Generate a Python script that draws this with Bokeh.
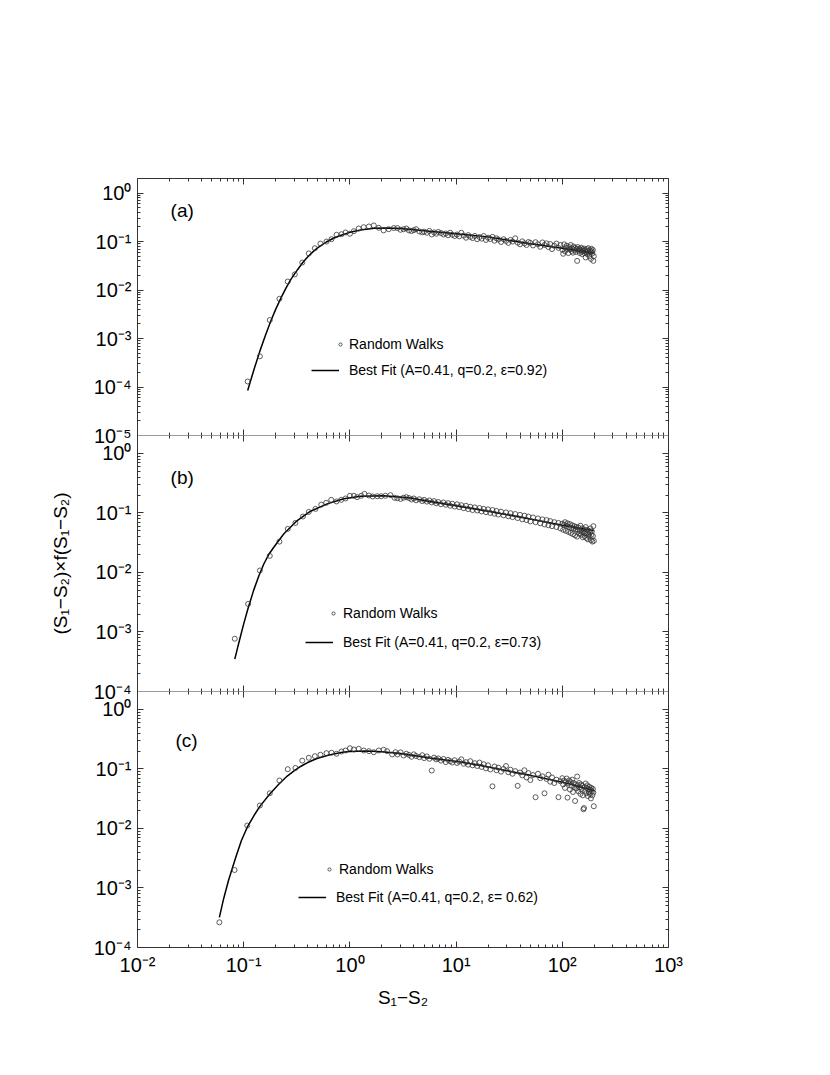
from bokeh.plotting import figure
from bokeh.layouts import column
from bokeh.models import (LogAxis, FixedTicker, CustomJSTickFormatter, Range1d,
                          Label, Legend, LegendItem)
from bokeh.embed import file_html
from bokeh.resources import INLINE

# ---------------- data ----------------
x_right = [2.8, 3.0, 3.2, 3.4, 3.6, 3.8, 4.0, 4.2, 4.5, 4.8,
           5.0, 5.3, 5.6, 5.9, 6.2, 6.5, 6.8, 7.2, 7.6, 8.0,
           8.4, 8.8, 9.2, 9.7, 10.2, 10.7, 11.2, 11.8, 12.4, 13.0,
           13.6, 14.3, 15.0, 15.8, 16.6, 17.4, 18.2, 19.1, 20, 21,
           22, 23, 24, 25, 26.5, 28, 29.5, 31, 32.5, 34,
           36, 38, 40, 42, 44, 46, 48, 50, 53, 56,
           59, 62, 65, 68, 71, 74, 77, 80, 84, 88,
           92, 96, 100, 102, 104, 106, 108, 110, 112, 114,
           116, 118, 120, 122, 124, 126, 128, 130, 132, 134,
           136, 138, 140, 142, 144, 146, 148, 150, 152, 154,
           156, 158, 160, 162, 164, 166, 168, 170, 172, 174,
           176, 178, 180, 182, 184, 186, 188, 190, 192, 194,
           196, 198]

# panel (a)
a_left_x = [0.109, 0.142, 0.176, 0.217, 0.26, 0.303, 0.356, 0.41, 0.468, 0.528,
            0.602, 0.671, 0.748, 0.834, 0.91, 1.0, 1.09, 1.21, 1.35, 1.51,
            1.68, 1.87, 2.08, 2.32, 2.59]
a_left_y = [1.3e-4, 4.3e-4, 2.4e-3, 6.6e-3, 0.015, 0.021, 0.037, 0.057, 0.073, 0.091,
            0.100, 0.112, 0.138, 0.142, 0.154, 0.145, 0.164, 0.186, 0.198, 0.205,
            0.215, 0.192, 0.170, 0.18, 0.19]
a_right_y = [0.19, 0.175, 0.18, 0.186, 0.17, 0.165, 0.172, 0.18, 0.162, 0.155,
             0.16, 0.152, 0.166, 0.14, 0.155, 0.145, 0.158, 0.15, 0.14, 0.147,
             0.135, 0.152, 0.138, 0.13, 0.14, 0.128, 0.152, 0.133, 0.12, 0.136,
             0.125, 0.118, 0.131, 0.112, 0.124, 0.115, 0.13, 0.108, 0.12, 0.113,
             0.125, 0.104, 0.117, 0.11, 0.098, 0.112, 0.103, 0.094, 0.108, 0.1,
             0.117, 0.095, 0.088, 0.101, 0.092, 0.085, 0.098, 0.094, 0.083, 0.097,
             0.088, 0.078, 0.096, 0.085, 0.092, 0.077, 0.089, 0.07, 0.082, 0.091,
             0.074, 0.085, 0.068, 0.056, 0.088, 0.063, 0.075, 0.082, 0.069, 0.058,
             0.077, 0.07, 0.085, 0.064, 0.072, 0.059, 0.079, 0.067, 0.074, 0.061,
             0.07, 0.04, 0.077, 0.065, 0.071, 0.058, 0.068, 0.075, 0.062, 0.055,
             0.069, 0.064, 0.072, 0.058, 0.066, 0.047, 0.061, 0.07, 0.055, 0.064,
             0.073, 0.059, 0.05, 0.066, 0.061, 0.044, 0.071, 0.063, 0.057, 0.067,
             0.04, 0.05]
fit_a_x = [0.109, 0.125, 0.142, 0.16, 0.18, 0.2, 0.225, 0.25, 0.28, 0.32, 0.36, 0.4,
           0.45, 0.5, 0.6, 0.7, 0.8, 1.0, 1.3, 1.7, 2.2, 3, 5, 10, 20, 50, 100, 198]
fit_a_y = [8.5e-5, 2.3e-4, 5.5e-4, 1.15e-3, 2.3e-3, 4.0e-3, 7.0e-3, 1.1e-2, 1.7e-2,
           2.6e-2, 3.7e-2, 4.8e-2, 6.2e-2, 7.5e-2, 9.8e-2, 0.117, 0.132, 0.155, 0.175,
           0.188, 0.19, 0.186, 0.168, 0.145, 0.125, 0.09, 0.073, 0.058]

# panel (b)
b_left_x = [0.0824, 0.110, 0.142, 0.176, 0.217, 0.26, 0.307, 0.361, 0.41, 0.474,
            0.537, 0.598, 0.667, 0.748, 0.828, 0.91, 1.0, 1.09, 1.17, 1.28,
            1.37, 1.51, 1.64, 1.81, 1.97, 2.16, 2.41, 2.63]
b_left_y = [7.7e-4, 2.96e-3, 0.0108, 0.019, 0.033, 0.054, 0.068, 0.087, 0.104, 0.117,
            0.138, 0.148, 0.166, 0.156, 0.166, 0.175, 0.194, 0.194, 0.184, 0.194,
            0.209, 0.196, 0.189, 0.191, 0.191, 0.194, 0.199, 0.18]
b_right_y = [0.176, 0.172, 0.18, 0.184, 0.178, 0.168, 0.175, 0.163, 0.17, 0.158,
             0.166, 0.155, 0.162, 0.15, 0.158, 0.145, 0.153, 0.14, 0.15, 0.137,
             0.146, 0.132, 0.143, 0.128, 0.14, 0.125, 0.135, 0.12, 0.132, 0.116,
             0.127, 0.112, 0.124, 0.11, 0.121, 0.106, 0.117, 0.103, 0.115, 0.1,
             0.112, 0.097, 0.108, 0.094, 0.105, 0.091, 0.102, 0.088, 0.099, 0.085,
             0.096, 0.082, 0.093, 0.078, 0.09, 0.076, 0.087, 0.072, 0.084, 0.07,
             0.081, 0.067, 0.078, 0.064, 0.076, 0.062, 0.073, 0.06, 0.07, 0.058,
             0.068, 0.055, 0.066, 0.052, 0.063, 0.07, 0.05, 0.061, 0.067, 0.048,
             0.058, 0.065, 0.046, 0.056, 0.062, 0.044, 0.055, 0.06, 0.042, 0.053,
             0.058, 0.04, 0.052, 0.057, 0.045, 0.05, 0.061, 0.043, 0.048, 0.055,
             0.039, 0.047, 0.053, 0.041, 0.046, 0.058, 0.038, 0.045, 0.052, 0.036,
             0.044, 0.05, 0.04, 0.047, 0.055, 0.035, 0.043, 0.049, 0.033, 0.041,
             0.06, 0.034]
fit_b_x = [0.0824, 0.09, 0.1, 0.11, 0.124, 0.139, 0.155, 0.172, 0.192, 0.239, 0.319,
           0.426, 0.611, 0.877, 1.26, 2.08, 3.72, 5, 10, 20, 50, 100, 198]
fit_b_y = [3.5e-4, 6.6e-4, 1.37e-3, 2.5e-3, 5.0e-3, 8.8e-3, 0.014, 0.02, 0.0265, 0.0446,
           0.0745, 0.107, 0.142, 0.173, 0.191, 0.195, 0.178, 0.162, 0.132, 0.107, 0.079,
           0.062, 0.05]

# panel (c)
c_left_x = [0.059, 0.082, 0.108, 0.142, 0.176, 0.217, 0.26, 0.307, 0.356, 0.41,
            0.468, 0.528, 0.602, 0.671, 0.748, 0.834, 0.91, 1.0, 1.09, 1.21,
            1.35, 1.51, 1.68, 1.87, 2.08, 2.24, 2.5, 2.69]
c_left_y = [2.65e-4, 2.0e-3, 0.0112, 0.0243, 0.039, 0.064, 0.099, 0.104, 0.138, 0.154,
            0.164, 0.173, 0.184, 0.187, 0.18, 0.196, 0.204, 0.223, 0.212, 0.218,
            0.204, 0.199, 0.191, 0.204, 0.21, 0.199, 0.175, 0.191]
c_right_y = [0.175, 0.19, 0.168, 0.18, 0.172, 0.16, 0.176, 0.165, 0.158, 0.17,
             0.152, 0.162, 0.148, 0.094, 0.155, 0.145, 0.15, 0.138, 0.147, 0.13,
             0.142, 0.135, 0.128, 0.14, 0.126, 0.133, 0.145, 0.122, 0.13, 0.118,
             0.135, 0.115, 0.125, 0.112, 0.128, 0.108, 0.12, 0.102, 0.115, 0.098,
             0.051, 0.11, 0.095, 0.105, 0.09, 0.1, 0.112, 0.088, 0.097, 0.083,
             0.092, 0.052, 0.087, 0.078, 0.095, 0.072, 0.085, 0.065, 0.079, 0.0335,
             0.083, 0.07, 0.075, 0.039, 0.068, 0.08, 0.061, 0.072, 0.058, 0.066,
             0.0335, 0.062, 0.07, 0.055, 0.064, 0.048, 0.06, 0.069, 0.033, 0.057,
             0.064, 0.045, 0.06, 0.052, 0.066, 0.041, 0.058, 0.05, 0.029, 0.055,
             0.047, 0.0745, 0.053, 0.042, 0.058, 0.049, 0.038, 0.055, 0.046, 0.052,
             0.036, 0.021, 0.022, 0.05, 0.043, 0.057, 0.039, 0.048, 0.053, 0.035,
             0.046, 0.041, 0.05, 0.038, 0.045, 0.032, 0.048, 0.042, 0.036, 0.046,
             0.04, 0.0236]
fit_c_x = [0.059, 0.065, 0.072, 0.0838, 0.095, 0.108, 0.125, 0.142, 0.176, 0.215,
           0.257, 0.3, 0.343, 0.4, 0.49, 0.6, 0.705, 0.85, 1.0, 1.45, 2.0, 3, 5.7,
           10, 17, 50, 100, 198]
fit_c_y = [3.2e-4, 6.8e-4, 1.35e-3, 3.2e-3, 6.2e-3, 0.0105, 0.0165, 0.0235, 0.038,
           0.056, 0.076, 0.094, 0.11, 0.128, 0.15, 0.167, 0.179, 0.19, 0.196, 0.2,
           0.195, 0.181, 0.152, 0.134, 0.114, 0.078, 0.06, 0.0433]

panel_tags = ["(a)", "(b)", "(c)"]
fit_labels = ["Best Fit (A=0.41, q=0.2, \u03b5=0.92)",
              "Best Fit (A=0.41, q=0.2, \u03b5=0.73)",
              "Best Fit (A=0.41, q=0.2, \u03b5= 0.62)"]
points_label = "Random Walks"
x_label = "S\u2081\u2212S\u2082"
y_label = "(S\u2081\u2212S\u2082)\u00d7f(S\u2081\u2212S\u2082)"

# ---------------- styling / layout ----------------
FONT = "Liberation Sans"
AX = "#333333"
LEFT, RIGHT = 137, 30
FRAME_W = 531
W = LEFT + FRAME_W + RIGHT
PAD = 12
Y_TOP = 2.0

x_range = Range1d(1e-2, 1e3)
x_ticker = FixedTicker(ticks=[10.0 ** d for d in range(-2, 4)],
                       minor_ticks=[m * 10.0 ** d for d in range(-2, 3) for m in range(2, 10)])

sup_fmt = CustomJSTickFormatter(code="""
const e = Math.round(Math.log(tick) / Math.LN10);
const m = {"-": "\u207b", "0": "\u2070", "1": "\u00b9", "2": "\u00b2", "3": "\u00b3",
           "4": "\u2074", "5": "\u2075", "6": "\u2076", "7": "\u2077", "8": "\u2078", "9": "\u2079"};
let s = "";
for (const c of String(e)) { s += m[c]; }
return "10" + s;
""")
blank_fmt = CustomJSTickFormatter(code="return '';")


def y_ticker(lo_exp):
    return FixedTicker(ticks=[10.0 ** d for d in range(lo_exp, 1)],
                       minor_ticks=[m * 10.0 ** d for d in range(lo_exp, 0) for m in range(2, 10)])


def make_axis(ticker, labels, line=True):
    ax = LogAxis(ticker=ticker, formatter=sup_fmt if labels else blank_fmt)
    ax.major_tick_in = 6
    ax.major_tick_out = 0
    ax.minor_tick_in = 3
    ax.minor_tick_out = 0
    ax.axis_line_color = AX if line else None
    ax.axis_line_width = 1
    ax.major_tick_line_color = AX
    ax.minor_tick_line_color = AX
    ax.major_label_text_font = FONT
    ax.major_label_text_color = "black"
    ax.major_label_text_font_size = "20px" if labels else "0px"
    ax.major_label_standoff = 6 if labels else 0
    ax.axis_label_text_font = FONT
    ax.axis_label_text_font_style = "normal"
    ax.axis_label_text_font_size = "19px"
    ax.axis_label_text_color = "black"
    return ax


def make_panel(idx, lo_exp, height, top, bottom, margin,
               px, py, fx, fy, tag_x, tag_y, circ_loc, line_loc, circ_so, line_so):
    p = figure(width=W, height=height, x_axis_type="log", y_axis_type="log",
               x_range=x_range, y_range=Range1d(10.0 ** lo_exp, Y_TOP),
               x_axis_location=None, y_axis_location=None,
               output_backend="svg", toolbar_location=None,
               min_border_left=LEFT, min_border_right=RIGHT,
               min_border_top=top, min_border_bottom=bottom)
    p.margin = margin
    p.outline_line_color = None
    p.border_fill_color = None
    p.border_fill_alpha = 0
    p.background_fill_color = "white"
    p.grid.visible = False

    yt = y_ticker(lo_exp)
    left = make_axis(yt, True)
    if idx == 1:
        left.axis_label = y_label
        left.axis_label_standoff = 20
    p.add_layout(left, "left")
    p.add_layout(make_axis(yt, False), "right")
    p.add_layout(make_axis(x_ticker, False, line=(idx == 0)), "above")
    bottom_ax = make_axis(x_ticker, idx == 2)
    if idx == 2:
        bottom_ax.axis_label = x_label
        bottom_ax.axis_label_standoff = 8
    p.add_layout(bottom_ax, "below")

    r_fit = p.line(fx, fy, line_color="black", line_width=1.5)
    r_pts = p.scatter(px, py, marker="circle", size=5, fill_color=None,
                      line_color="#333333", line_width=0.8)

    p.add_layout(Label(x=tag_x, y=tag_y, text=panel_tags[idx], text_font=FONT,
                       text_font_size="19px", text_baseline="middle", text_color="black"))

    common = dict(padding=0, margin=0, spacing=0, border_line_color=None,
                  background_fill_alpha=0, label_text_font=FONT,
                  label_text_font_size="14px", label_text_color="black",
                  label_height=20, glyph_height=20)
    leg1 = Legend(items=[LegendItem(label=points_label, renderers=[r_pts])],
                  location=circ_loc, glyph_width=8, label_standoff=circ_so, **common)
    leg2 = Legend(items=[LegendItem(label=fit_labels[idx], renderers=[r_fit])],
                  location=line_loc, glyph_width=28, label_standoff=line_so, **common)
    p.add_layout(leg1)
    p.add_layout(leg2)
    return p


pa = make_panel(0, -5, 178 + 257 + PAD, 178, PAD, (0, 0, 0, 0),
                a_left_x + x_right, a_left_y + a_right_y, fit_a_x, fit_a_y,
                0.0205, 0.437, (199, 81), (174, 55), 5, 10)
pb = make_panel(1, -4, PAD + 256 + PAD, PAD, PAD, (-2 * PAD, 0, 0, 0),
                b_left_x + x_right, b_left_y + b_right_y, fit_b_x, fit_b_y,
                0.0205, 0.393, (192, 68), (168, 39), 6, 10)
pc = make_panel(2, -4, PAD + 256 + 85, PAD, 85, (-2 * PAD, 0, 0, 0),
                c_left_x + x_right, c_left_y + c_right_y, fit_c_x, fit_c_y,
                0.0228, 0.30, (188, 68), (161, 40), 6, 10)

layout = column(pa, pb, pc, spacing=0)
open("out.html", "w").write(file_html(layout, INLINE))
